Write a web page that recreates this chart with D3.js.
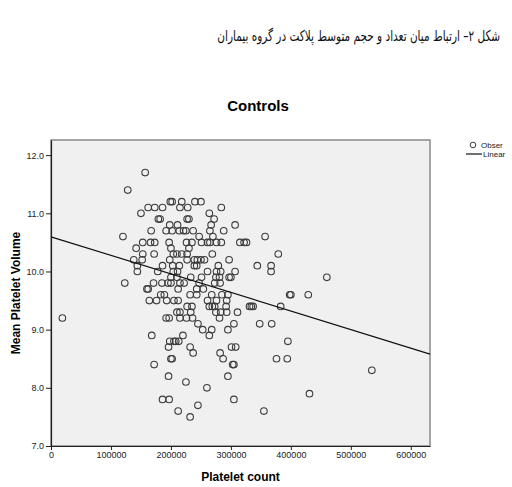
<!DOCTYPE html>
<html>
<head>
<meta charset="utf-8">
<script src="https://cdn.jsdelivr.net/npm/d3@7"></script>
<style>
  body { margin: 0; background: #fff; }
  text { font-family: "Liberation Sans", Arial, sans-serif; }
</style>
</head>
<body>
<div id="my_dataviz"></div>
<script>

// data read off the picture: MPV is recorded with one decimal, so points sit in rows
// counts are in thousands (platelets / 1000)
var mpvLevels = [11.7, 11.4, 11.2, 11.1, 11.0, 10.9, 10.8, 10.7, 10.6, 10.5,
                 10.4, 10.3, 10.2, 10.1, 10.0, 9.9, 9.8, 9.7, 9.6, 9.5,
                 9.4, 9.3, 9.2, 9.1, 9.0, 8.9, 8.8, 8.7, 8.6, 8.5,
                 8.4, 8.3, 8.2, 8.1, 8.0, 7.9, 7.8, 7.7, 7.6, 7.5];
var countsAtLevel = [
  [157],
  [128],
  [199, 202, 218, 240, 250],
  [162, 173, 186, 215, 228, 284],
  [150, 264],
  [179, 182, 227, 230, 272],
  [198, 211, 267, 307],
  [167, 192, 202, 214, 221, 225, 237, 265, 288],
  [120, 247, 270, 357],
  [153, 166, 173, 197, 226, 235, 251, 261, 265, 276, 284, 315, 322, 326],
  [142, 200, 230],
  [153, 172, 204, 210, 218, 227, 269, 379],
  [138, 152, 198, 227, 239, 244, 250, 256, 297],
  [144, 186, 203, 214, 239, 243, 279, 344, 367],
  [144, 178, 204, 211, 261, 276, 283, 307, 367],
  [200, 210, 233, 251, 275, 281, 297, 300, 460],
  [123, 171, 185, 195, 200, 215, 222, 247, 273, 282],
  [160, 162, 212, 243, 254],
  [183, 189, 232, 243, 268, 285, 295, 398, 400, 429],
  [164, 176, 193, 205, 212, 261, 276, 293],
  [227, 235, 264, 269, 273, 292, 331, 334, 337, 383],
  [210, 215, 233, 275, 283, 293, 311],
  [19, 192, 197, 215, 226, 236, 281],
  [245, 305, 348, 368],
  [253, 268, 295],
  [168, 220, 264],
  [198, 205, 208, 213, 395],
  [196, 232, 301, 308],
  [237, 282],
  [200, 202, 287, 376, 394],
  [172, 303, 305],
  [535],
  [196, 295],
  [225],
  [260],
  [431],
  [186, 197, 305],
  [245],
  [212, 355],
  [232]
];

// linear fit as drawn
var fitIntercept = 10.596;
var fitSlope = -3.19e-6;

var xTicks = [0, 100000, 200000, 300000, 400000, 500000, 600000];
var yTicks = [7.0, 8.0, 9.0, 10.0, 11.0, 12.0];
var xMax = 632000, yMin = 7, yMax = 12.26;

var points = [];
mpvLevels.forEach(function(v, i) {
  countsAtLevel[i].forEach(function(c) {
    points.push({count: c * 1000, mpv: v});
  });
});

var svg = d3.select("#my_dataviz")
  .append("svg")
    .attr("width", 512)
    .attr("height", 487);

// persian caption (narrowed horizontally to match the original face)
svg.append("g")
  .attr("transform", "translate(500,41) scale(0.7,1)")
  .append("text")
    .attr("x", 0)
    .attr("y", 0)
    .attr("text-anchor", "end")
    .style("font-family", "'DejaVu Sans', sans-serif")
    .style("font-size", "15px")
    .attr("fill", "#111")
    .text("شکل ۲– ارتباط میان تعداد و حجم متوسط پلاکت در گروه بیماران");

// chart title
svg.append("text")
  .attr("x", 258)
  .attr("y", 111)
  .attr("text-anchor", "middle")
  .style("font-size", "15px")
  .style("font-weight", "bold")
  .text("Controls");

var x = d3.scaleLinear().domain([0, xMax]).range([51, 430]);
var y = d3.scaleLinear().domain([yMin, yMax]).range([446, 140]);

// plot background
svg.append("rect")
  .attr("x", x(0))
  .attr("y", y(yMax))
  .attr("width", x(xMax) - x(0))
  .attr("height", y(yMin) - y(yMax))
  .attr("fill", "#f0f0f0")
  .attr("stroke", "#8f8f8f")
  .attr("stroke-width", 1.6);

// observed points
svg.append("g")
  .selectAll("circle")
  .data(points)
  .enter()
  .append("circle")
    .attr("cx", function(d) { return x(d.count); })
    .attr("cy", function(d) { return y(d.mpv); })
    .attr("r", 3.3)
    .attr("fill", "none")
    .attr("stroke", "#3c3c3c")
    .attr("stroke-width", 1.1);

// fit line
svg.append("path")
  .datum([0, xMax])
  .attr("fill", "none")
  .attr("stroke", "#111")
  .attr("stroke-width", 1.2)
  .attr("d", d3.line()
    .x(function(d) { return x(d); })
    .y(function(d) { return y(fitIntercept + fitSlope * d); }));

// axes
var yAxis = svg.append("g")
  .attr("transform", "translate(" + x(0) + ",0)")
  .call(d3.axisLeft(y).tickValues(yTicks).tickFormat(d3.format(".1f")).tickSize(5).tickSizeOuter(0));
var xAxis = svg.append("g")
  .attr("transform", "translate(0," + y(yMin) + ")")
  .call(d3.axisBottom(x).tickValues(xTicks).tickFormat(d3.format("d")).tickSize(4).tickSizeOuter(0));
[xAxis, yAxis].forEach(function(a) {
  a.selectAll("text")
    .style("font-family", "'Liberation Sans', Arial, sans-serif")
    .style("font-size", "9px")
    .attr("fill", "#222");
  a.selectAll("line").attr("stroke", "#222");
  a.select(".domain").attr("stroke", "#222").attr("stroke-width", 1.2);
});
yAxis.selectAll("text").attr("x", -7);
xAxis.selectAll("text").attr("y", 6);

// axis titles
svg.append("text")
  .attr("transform", "translate(20," + ((y(yMin) + y(yMax)) / 2) + ") rotate(-90)")
  .attr("text-anchor", "middle")
  .style("font-size", "12px")
  .style("font-weight", "bold")
  .text("Mean Platelet Volume");
svg.append("text")
  .attr("x", (x(0) + x(xMax)) / 2)
  .attr("y", 481)
  .attr("text-anchor", "middle")
  .style("font-size", "12px")
  .style("font-weight", "bold")
  .text("Platelet count");

// legend
var legend = svg.append("g");
legend.append("circle")
  .attr("cx", 473).attr("cy", 145).attr("r", 2.8)
  .attr("fill", "none").attr("stroke", "#3c3c3c").attr("stroke-width", 1);
legend.append("text")
  .attr("x", 481).attr("y", 148)
  .style("font-size", "8px").attr("fill", "#222")
  .text("Obser");
legend.append("line")
  .attr("x1", 466).attr("x2", 482).attr("y1", 154).attr("y2", 154)
  .attr("stroke", "#111").attr("stroke-width", 1.2);
legend.append("text")
  .attr("x", 483).attr("y", 157)
  .style("font-size", "8px").attr("fill", "#222")
  .text("Linear");

</script>
</body>
</html>
